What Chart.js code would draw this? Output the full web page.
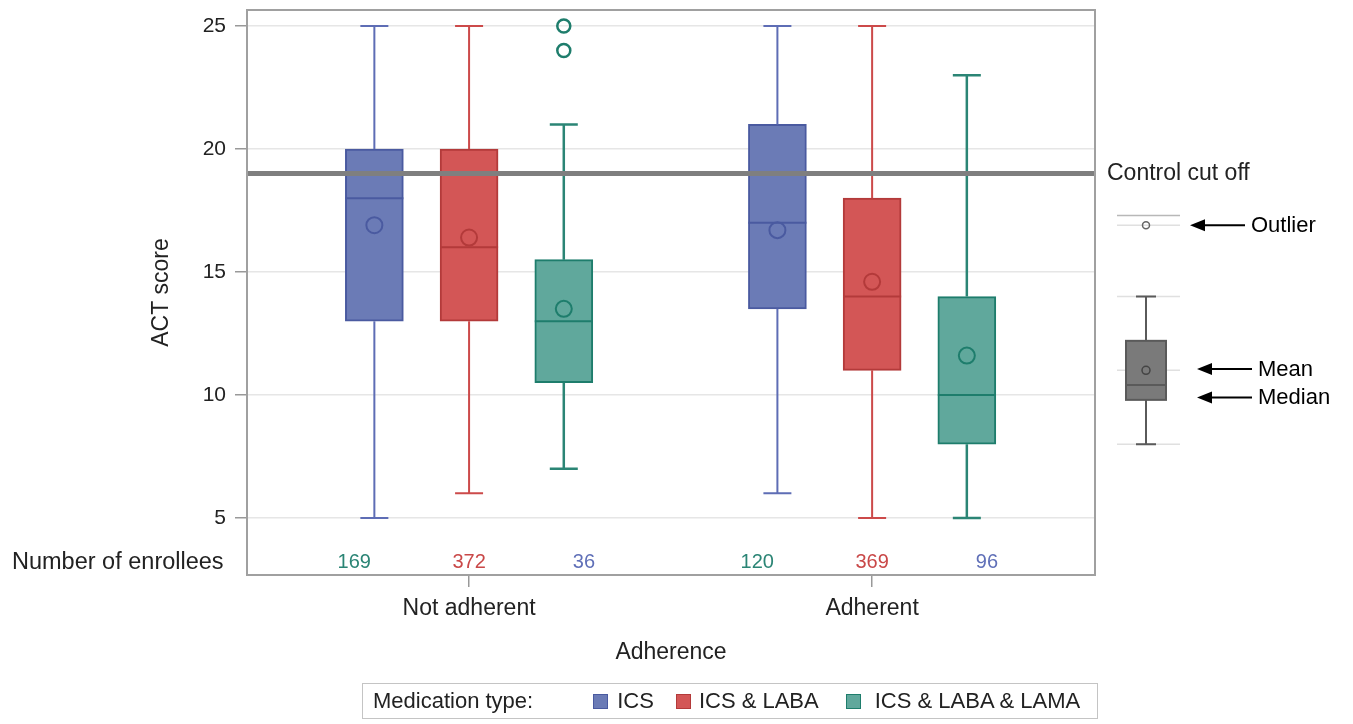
<!DOCTYPE html>
<html>
<head>
<meta charset="utf-8">
<script src="https://cdn.jsdelivr.net/npm/chart.js@4/dist/chart.umd.min.js"></script>
<style>
body { margin: 0; background: #fff; font-family: "Liberation Sans", Arial, sans-serif; }
#wrap { position: relative; width: 1353px; height: 724px; }
#legend { position: absolute; left: 362px; top: 683px; width: 734px; height: 34px; border: 1px solid #c4c4c4;
  display: flex; align-items: center; font-size: 22px; color: #222; white-space: nowrap; }
#legend .sw { width: 13px; height: 13px; border: 1px solid; display: inline-block; }
</style>
</head>
<body>
<div id="wrap">
  <canvas id="chart" width="1353" height="724"></canvas>
  <div id="legend">
    <span style="margin-left:10px">Medication type:</span>
    <span class="sw" style="margin-left:60px;background:#6b7bb6;border-color:#4a5aa0"></span>
    <span style="margin-left:9px">ICS</span>
    <span class="sw" style="margin-left:22px;background:#d35656;border-color:#b33a3a"></span>
    <span style="margin-left:8px">ICS &amp; LABA</span>
    <span class="sw" style="margin-left:27px;background:#60a89c;border-color:#1e7d6c"></span>
    <span style="margin-left:14px">ICS &amp; LABA &amp; LAMA</span>
  </div>
</div>
<script>
// groups on the x axis, medication types within each group
var groups = ['Not adherent', 'Adherent'];
var medTypes = ['ICS', 'ICS & LABA', 'ICS & LABA & LAMA'];
var boxOffsets = [-0.235, 0, 0.235];

// box plot stats, one row per medication type: [Not adherent, Adherent]
var minVals    = [[5, 6], [6, 5], [7, 5]];
var q1Vals     = [[13, 13.5], [13, 11], [10.5, 8]];
var medianVals = [[18, 17], [16, 14], [13, 10]];
var q3Vals     = [[20, 21], [20, 18], [15.5, 14]];
var maxVals    = [[25, 25], [25, 25], [21, 23]];
var meanVals   = [[16.9, 16.7], [16.4, 14.6], [13.5, 11.6]];
var outlierVals = [[[], []], [[], []], [[24, 25], []]];

// enrollee counts as printed under each group (left, middle, right)
var enrollees = [[169, 372, 36], [120, 369, 96]];
var enrolleeColors = ['#2b8575', '#c94848', '#6070b8'];
var enrolleeRow = 3.2;

var cutOff = 19;
var yTicks = [5, 10, 15, 20, 25];

// schematic key on the right, in ACT score units
var keyOutlier = 16.9, keyOutlierLine = 17.3;
var keyBox = { low: 8, q1: 9.8, median: 10.4, mean: 11, q3: 12.2, high: 14 };
var keyArrows = [['Outlier', 16.9, 95, 150, 156], ['Mean', 11.05, 102, 157, 163], ['Median', 9.9, 102, 157, 163]];

var fills = ['#6b7bb6', '#d35656', '#60a89c'];
var borders = ['#4a5aa0', '#b33a3a', '#1e7d6c'];
var whiskerColors = ['#5e6db5', '#cc4a4a', '#2b8575'];
var whiskerWidths = [2, 2, 2.5];

Chart.defaults.font.family = "'Liberation Sans', Arial, sans-serif";
Chart.defaults.color = '#222';

var boxPlotExtras = {
    id: 'boxPlotExtras',
    afterDatasetDraw: function (chart, args) {
        if (args.meta.type !== 'bar') return;
        var k = args.index;
        var ctx = chart.ctx, x = chart.scales.x, y = chart.scales.y;
        ctx.save();
        groups.forEach(function (g, i) {
            var cx = x.getPixelForValue(i + 1 + boxOffsets[k]);
            var bar = args.meta.data[i];
            var cap = 14;
            ctx.strokeStyle = whiskerColors[k];
            ctx.lineWidth = whiskerWidths[k];
            ctx.beginPath();
            ctx.moveTo(cx, y.getPixelForValue(q3Vals[k][i]));
            ctx.lineTo(cx, y.getPixelForValue(maxVals[k][i]));
            ctx.moveTo(cx, y.getPixelForValue(q1Vals[k][i]));
            ctx.lineTo(cx, y.getPixelForValue(minVals[k][i]));
            ctx.moveTo(cx - cap, y.getPixelForValue(maxVals[k][i]));
            ctx.lineTo(cx + cap, y.getPixelForValue(maxVals[k][i]));
            ctx.moveTo(cx - cap, y.getPixelForValue(minVals[k][i]));
            ctx.lineTo(cx + cap, y.getPixelForValue(minVals[k][i]));
            ctx.stroke();
            // median
            ctx.strokeStyle = borders[k];
            ctx.lineWidth = 2;
            ctx.beginPath();
            ctx.moveTo(bar.x - bar.width / 2, y.getPixelForValue(medianVals[k][i]));
            ctx.lineTo(bar.x + bar.width / 2, y.getPixelForValue(medianVals[k][i]));
            ctx.stroke();
        });
        ctx.restore();
    },
    afterDraw: function (chart) {
        var ctx = chart.ctx, x = chart.scales.x, y = chart.scales.y, a = chart.chartArea;
        ctx.save();
        // control cut off line
        ctx.strokeStyle = '#7f7f7f';
        ctx.lineWidth = 5;
        ctx.beginPath();
        ctx.moveTo(a.left, y.getPixelForValue(cutOff));
        ctx.lineTo(a.right, y.getPixelForValue(cutOff));
        ctx.stroke();
        // frame
        ctx.strokeStyle = '#a0a0a0';
        ctx.lineWidth = 2;
        ctx.strokeRect(a.left, a.top, a.right - a.left, a.bottom - a.top);
        // enrollee counts
        ctx.font = "20px 'Liberation Sans', Arial, sans-serif";
        ctx.textAlign = 'center';
        ctx.textBaseline = 'middle';
        var yr = y.getPixelForValue(enrolleeRow);
        enrollees.forEach(function (row, i) {
            row.forEach(function (n, j) {
                ctx.fillStyle = enrolleeColors[j];
                ctx.fillText(String(n), x.getPixelForValue(i + 1 + (j - 1) * 0.285), yr);
            });
        });
        ctx.fillStyle = '#222';
        ctx.font = "23.5px 'Liberation Sans', Arial, sans-serif";
        ctx.textAlign = 'left';
        ctx.fillText('Number of enrollees', 12, yr);
        ctx.font = "23px 'Liberation Sans', Arial, sans-serif";
        ctx.fillText('Control cut off', a.right + 12, y.getPixelForValue(cutOff));

        // key: outlier
        var kx = a.right + 51;
        ctx.lineWidth = 1.5;
        ctx.strokeStyle = '#b8b8b8';
        ctx.beginPath();
        ctx.moveTo(a.right + 22, y.getPixelForValue(keyOutlierLine));
        ctx.lineTo(a.right + 85, y.getPixelForValue(keyOutlierLine));
        ctx.stroke();
        ctx.strokeStyle = '#e0e0e0';
        ctx.beginPath();
        ctx.moveTo(a.right + 22, y.getPixelForValue(keyOutlier));
        ctx.lineTo(a.right + 85, y.getPixelForValue(keyOutlier));
        [keyBox.high, keyBox.mean, keyBox.low].forEach(function (v) {
            ctx.moveTo(a.right + 22, y.getPixelForValue(v));
            ctx.lineTo(a.right + 85, y.getPixelForValue(v));
        });
        ctx.stroke();
        ctx.strokeStyle = '#666';
        ctx.lineWidth = 1.5;
        ctx.beginPath();
        ctx.arc(kx, y.getPixelForValue(keyOutlier), 3.5, 0, Math.PI * 2);
        ctx.stroke();
        // key: box
        ctx.strokeStyle = '#5a5a5a';
        ctx.lineWidth = 2;
        ctx.beginPath();
        ctx.moveTo(kx, y.getPixelForValue(keyBox.high));
        ctx.lineTo(kx, y.getPixelForValue(keyBox.low));
        ctx.moveTo(kx - 10, y.getPixelForValue(keyBox.high));
        ctx.lineTo(kx + 10, y.getPixelForValue(keyBox.high));
        ctx.moveTo(kx - 10, y.getPixelForValue(keyBox.low));
        ctx.lineTo(kx + 10, y.getPixelForValue(keyBox.low));
        ctx.stroke();
        var bt = y.getPixelForValue(keyBox.q3), bb = y.getPixelForValue(keyBox.q1);
        ctx.fillStyle = '#7a7a7a';
        ctx.fillRect(kx - 20, bt, 40, bb - bt);
        ctx.strokeRect(kx - 20, bt, 40, bb - bt);
        ctx.beginPath();
        ctx.moveTo(kx - 20, y.getPixelForValue(keyBox.median));
        ctx.lineTo(kx + 20, y.getPixelForValue(keyBox.median));
        ctx.stroke();
        ctx.lineWidth = 1.5;
        ctx.strokeStyle = '#444';
        ctx.beginPath();
        ctx.arc(kx, y.getPixelForValue(keyBox.mean), 4, 0, Math.PI * 2);
        ctx.stroke();
        // key: arrows and labels
        ctx.fillStyle = '#000';
        ctx.strokeStyle = '#000';
        ctx.lineWidth = 2;
        ctx.font = "22px 'Liberation Sans', Arial, sans-serif";
        keyArrows.forEach(function (ar) {
            var ay = y.getPixelForValue(ar[1]);
            var tip = a.right + ar[2], tail = a.right + ar[3];
            ctx.beginPath();
            ctx.moveTo(tip + 12, ay);
            ctx.lineTo(tail, ay);
            ctx.stroke();
            ctx.beginPath();
            ctx.moveTo(tip, ay);
            ctx.lineTo(tip + 15, ay - 6);
            ctx.lineTo(tip + 15, ay + 6);
            ctx.closePath();
            ctx.fill();
            ctx.fillText(ar[0], a.right + ar[4], ay + 1);
        });
        ctx.restore();
    }
};

var datasets = [];
medTypes.forEach(function (m, k) {
    datasets.push({
        type: 'bar',
        label: m,
        data: groups.map(function (g, i) {
            return { x: i + 1 + boxOffsets[k], y: [q1Vals[k][i], q3Vals[k][i]] };
        }),
        backgroundColor: fills[k],
        borderColor: borders[k],
        borderWidth: 2,
        borderSkipped: false,
        barThickness: 58,
        grouped: false,
        order: 2
    });
});
medTypes.forEach(function (m, k) {
    datasets.push({
        type: 'scatter',
        label: m + ' mean',
        data: groups.map(function (g, i) {
            return { x: i + 1 + boxOffsets[k], y: meanVals[k][i] };
        }),
        pointRadius: 8,
        pointBorderWidth: 2,
        pointBackgroundColor: 'rgba(0,0,0,0)',
        pointBorderColor: borders[k],
        order: 1
    });
});
var outlierPoints = [];
medTypes.forEach(function (m, k) {
    groups.forEach(function (g, i) {
        outlierVals[k][i].forEach(function (v) {
            outlierPoints.push({ x: i + 1 + boxOffsets[k], y: v, k: k });
        });
    });
});
datasets.push({
    type: 'scatter',
    label: 'Outliers',
    data: outlierPoints,
    pointRadius: 6.5,
    pointBorderWidth: 2.5,
    pointBackgroundColor: 'rgba(0,0,0,0)',
    pointBorderColor: outlierPoints.map(function (p) { return borders[p.k]; }),
    order: 1
});

var chart = new Chart(document.getElementById('chart'), {
    type: 'bar',
    data: { datasets: datasets },
    options: {
        responsive: false,
        animation: false,
        layout: { padding: { left: 148, right: 258, top: 10, bottom: 54 } },
        plugins: { legend: { display: false }, tooltip: { enabled: false } },
        scales: {
            x: {
                type: 'linear',
                offset: false,
                min: 0.449,
                max: 2.553,
                afterBuildTicks: function (s) { s.ticks = [{ value: 1 }, { value: 2 }]; },
                afterFit: function (s) { s.height = 95; s.paddingLeft = 0; s.paddingRight = 0; },
                ticks: {
                    callback: function (v) { return groups[v - 1]; },
                    font: { size: 23 },
                    color: '#222',
                    padding: 8
                },
                grid: { offset: false, drawOnChartArea: false, tickLength: 12, tickColor: '#999', lineWidth: 1.5 },
                border: { color: '#a0a0a0', width: 2 },
                title: { display: true, text: 'Adherence', font: { size: 23 }, color: '#222', padding: { top: 0, bottom: 4 } }
            },
            y: {
                min: 2.68,
                max: 25.65,
                afterBuildTicks: function (s) { s.ticks = yTicks.map(function (v) { return { value: v }; }); },
                afterFit: function (s) { s.width = 99; s.paddingTop = 0; s.paddingBottom = 0; },
                ticks: { font: { size: 21 }, color: '#222', padding: 9 },
                grid: { color: '#e6e6e6', lineWidth: 1.5, tickLength: 12, tickColor: '#999' },
                border: { color: '#a0a0a0', width: 2 },
                title: { display: true, text: 'ACT score', font: { size: 23 }, color: '#222', padding: 0 }
            }
        }
    },
    plugins: [boxPlotExtras]
});
</script>
</body>
</html>
